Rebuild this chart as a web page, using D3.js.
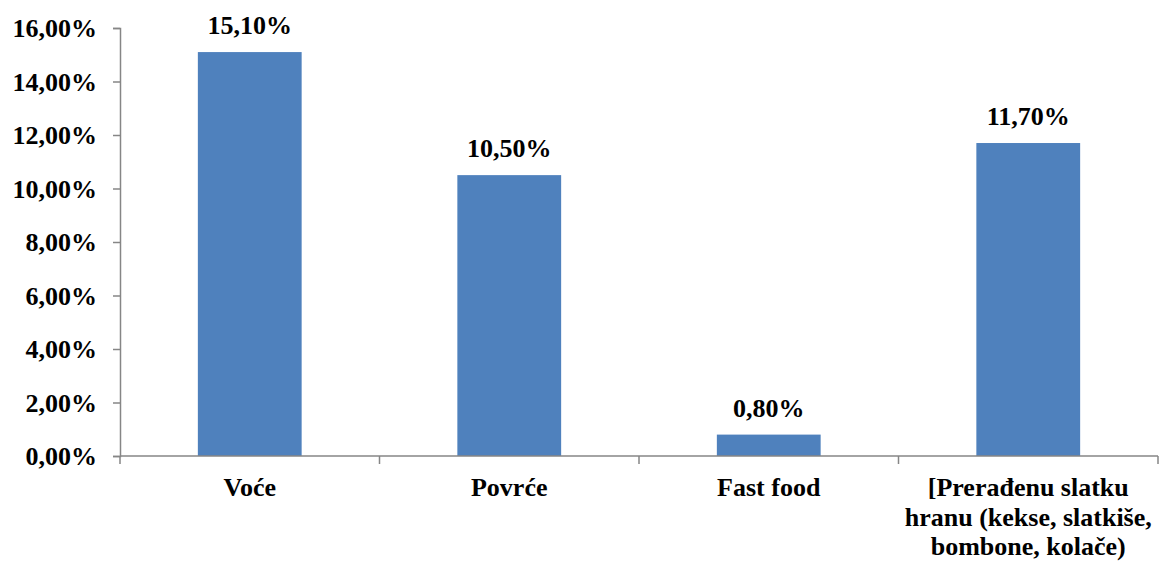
<!DOCTYPE html>
<html>
<head>
<meta charset="utf-8">
<script src="https://cdn.jsdelivr.net/npm/d3@7"></script>
<style>
  html, body { margin: 0; padding: 0; background: #fff; }
  svg { display: block; }
  text { font-family: "Liberation Serif", "Times New Roman", serif; font-weight: bold; fill: #000; }
</style>
</head>
<body>
<svg id="chart" width="1160" height="561"></svg>
<script>
// Categories (each entry is the list of lines the label wraps into)
const categories = ["Voće", "Povrće", "Fast food", "[Prerađenu slatku hranu (kekse, slatkiše, bombone, kolače)"];
const categoryLines = [
  ["Voće"],
  ["Povrće"],
  ["Fast food"],
  ["[Prerađenu slatku", "hranu (kekse, slatkiše,", "bombone, kolače)"]
];
// Share of respondents, in percent
const values = [15.1, 10.5, 0.8, 11.7];
// Y axis ticks, in percent
const yTicks = [0, 2, 4, 6, 8, 10, 12, 14, 16];

const fmt = v => v.toFixed(2).replace(".", ",") + "%";

const svg = d3.select("#chart");
const plotLeft = 120, plotRight = 1158, plotTop = 28, plotBottom = 456;
const fontSize = 26;

const x = d3.scaleBand().domain(categories).range([plotLeft, plotRight]).paddingInner(0.6).paddingOuter(0.3);
const band = (plotRight - plotLeft) / categories.length;
const y = d3.scaleLinear().domain([0, 16]).range([plotBottom, plotTop]);

const axisColor = "#868686";

// Y axis
const yAxis = svg.append("g")
  .attr("transform", `translate(${plotLeft},0)`)
  .call(d3.axisLeft(y).tickValues(yTicks).tickFormat(fmt).tickSizeOuter(0).tickSize(7).tickPadding(16));
yAxis.select(".domain").attr("stroke", axisColor).attr("stroke-width", 1.5);
yAxis.selectAll(".tick line").attr("stroke", axisColor).attr("stroke-width", 1.5);
yAxis.selectAll(".tick text")
  .attr("font-size", fontSize)
  .attr("fill", "#000")
  .attr("dy", "0.34em");

// Bars
svg.append("g").selectAll("rect")
  .data(values)
  .join("rect")
  .attr("x", (d, i) => x(categories[i]))
  .attr("width", x.bandwidth())
  .attr("y", d => y(d))
  .attr("height", d => y(0) - y(d))
  .attr("fill", "#4F81BD");

// Value labels
svg.append("g").selectAll("text")
  .data(values)
  .join("text")
  .attr("x", (d, i) => x(categories[i]) + x.bandwidth() / 2)
  .attr("y", d => y(d) - 18)
  .attr("text-anchor", "middle")
  .attr("font-size", fontSize)
  .text(d => fmt(d));

// X axis line with boundary ticks between categories
const xg = svg.append("g");
xg.append("line")
  .attr("x1", plotLeft).attr("x2", plotRight)
  .attr("y1", plotBottom).attr("y2", plotBottom)
  .attr("stroke", axisColor).attr("stroke-width", 1.5);
xg.selectAll("line.tick")
  .data(d3.range(categories.length + 1))
  .join("line")
  .attr("class", "tick")
  .attr("x1", i => plotLeft + i * band).attr("x2", i => plotLeft + i * band)
  .attr("y1", plotBottom).attr("y2", plotBottom + 8)
  .attr("stroke", axisColor).attr("stroke-width", 1.5);

// Category labels
const labels = xg.selectAll("text.cat")
  .data(categories)
  .join("text")
  .attr("class", "cat")
  .attr("text-anchor", "middle")
  .attr("font-size", fontSize)
  .attr("x", d => x(d) + x.bandwidth() / 2)
  .attr("y", plotBottom + 40);
labels.each(function(d, i) {
  d3.select(this).selectAll("tspan")
    .data(categoryLines[i])
    .join("tspan")
    .attr("x", x(d) + x.bandwidth() / 2)
    .attr("dy", (t, j) => j === 0 ? 0 : 29.5)
    .text(t => t);
});
</script>
</body>
</html>
